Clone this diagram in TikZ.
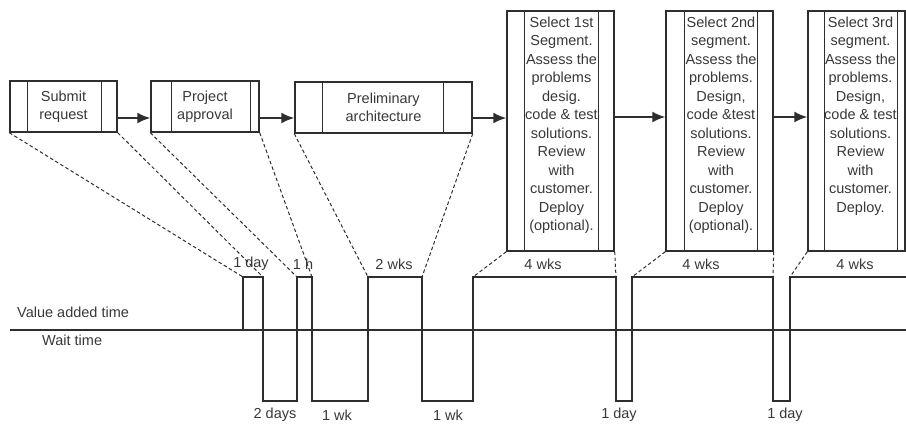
\documentclass[tikz,border=0pt]{standalone}
\usepackage{fontspec}
\setmainfont{Liberation Sans}
\usetikzlibrary{arrows.meta}
\begin{document}
\begin{tikzpicture}[x=1pt, y=-1pt, ink/.style={line width=1.4pt, vsInk}, proj/.style={line width=1pt, vsInk, dash pattern=on 3.5pt off 2.5pt}, flow/.style={-{Latex[length=13pt,width=11pt]}, line width=1.8pt, vsInk}, box/.style={draw=vsInk, line width=1.4pt, inner sep=0pt, align=center}, boxtext/.style={anchor=north, inner sep=0pt, align=center}, lbl/.style={inner sep=0pt}, every node/.style={text=vsText, font=\fontsize{14.5}{18.5}\selectfont}]
\definecolor{vsInk}{rgb}{0.18,0.18,0.18}
\definecolor{vsText}{rgb}{0.22,0.22,0.22}
\useasboundingbox (0,0) rectangle (906,424);
\node[box, minimum width=107pt, minimum height=51pt] (b1) at (63.5,106.5) {Submit\\request};
\draw[ink] ([xshift=18pt]b1.north west) -- ([xshift=18pt]b1.south west);
\draw[ink] ([xshift=-16pt]b1.north east) -- ([xshift=-16pt]b1.south east);
\node[box, minimum width=108pt, minimum height=51pt] (b2) at (205,106.5) {Project\\approval};
\draw[ink] ([xshift=21pt]b2.north west) -- ([xshift=21pt]b2.south west);
\draw[ink] ([xshift=-9pt]b2.north east) -- ([xshift=-9pt]b2.south east);
\node[box, minimum width=177pt, minimum height=51pt] (b3) at (383.5,107.5) {Preliminary\\architecture};
\draw[ink] ([xshift=28pt]b3.north west) -- ([xshift=28pt]b3.south west);
\draw[ink] ([xshift=-29pt]b3.north east) -- ([xshift=-29pt]b3.south east);
\node[box, minimum width=107pt, minimum height=240pt] (b4) at (560.5,131) {};
\draw[ink] ([xshift=18pt]b4.north west) -- ([xshift=18pt]b4.south west);
\draw[ink] ([xshift=-16pt]b4.north east) -- ([xshift=-16pt]b4.south east);
\node[boxtext] (t4) at ([xshift=1pt, yshift=-6pt]b4.north) {Select 1st\\Segment.\\Assess the\\problems\\desig.\\code \& test\\solutions.\\Review\\with\\customer.\\Deploy\\(optional).};
\node[box, minimum width=107pt, minimum height=240pt] (b5) at (719.5,131) {};
\draw[ink] ([xshift=19pt]b5.north west) -- ([xshift=19pt]b5.south west);
\draw[ink] ([xshift=-16pt]b5.north east) -- ([xshift=-16pt]b5.south east);
\node[boxtext] (t5) at ([xshift=1.5pt, yshift=-6pt]b5.north) {Select 2nd\\segment.\\Assess the\\problems.\\Design,\\code \&test\\solutions.\\Review\\with\\customer.\\Deploy\\(optional).};
\node[box, minimum width=97pt, minimum height=240pt] (b6) at (856.5,131) {};
\draw[ink] ([xshift=17pt]b6.north west) -- ([xshift=17pt]b6.south west);
\draw[ink] ([xshift=-8pt]b6.north east) -- ([xshift=-8pt]b6.south east);
\node[boxtext] (t6) at ([xshift=4pt, yshift=-6pt]b6.north) {Select 3rd\\segment.\\Assess the\\problems.\\Design,\\code \& test\\solutions.\\Review\\with\\customer.\\Deploy.};
\draw[flow] ([yshift=-11.5pt]b1.east) -- ([yshift=-11.5pt]b2.west);
\draw[flow] ([yshift=-11.5pt]b2.east) -- ([yshift=-11.5pt]b2.east -| b3.west);
\draw[flow] ([yshift=-10.5pt]b3.east) -- ([yshift=-10.5pt]b3.east -| b4.west);
\draw[flow] ([yshift=14pt]b4.east) -- ([yshift=14pt]b5.west);
\draw[flow] ([yshift=14pt]b5.east) -- ([yshift=14pt]b5.east -| b6.west);
\coordinate (base0) at (10,330);
\coordinate (base1) at (906,330);
\draw[ink] (base0) -- (base1);
\coordinate (p1a) at (243,277);
\coordinate (p1b) at (263,277);
\coordinate (p2a) at (297,277);
\coordinate (p2b) at (312,277);
\coordinate (p3a) at (368,277);
\coordinate (p3b) at (422,277);
\coordinate (p4a) at (473,277);
\coordinate (p4b) at (616,277);
\coordinate (p5a) at (632,277);
\coordinate (p5b) at (773,277);
\coordinate (p6a) at (790,277);
\draw[ink] (243,330) -- (p1a) -- (p1b) -- (263,401) -- (297,401) -- (p2a) -- (p2b) -- (312,401) -- (368,401) -- (p3a) -- (p3b) -- (422,401) -- (473,401) -- (p4a) -- (p4b) -- (616,401) -- (632,401) -- (p5a) -- (p5b) -- (773,401) -- (790,401) -- (p6a) -- (906,277);
\draw[proj] (b1.south west) -- (p1a);
\draw[proj] (b1.south east) -- (p1b);
\draw[proj] (b2.south west) -- (p2a);
\draw[proj] (b2.south east) -- (p2b);
\draw[proj] (b3.south west) -- (p3a);
\draw[proj] (b3.south east) -- (p3b);
\draw[proj] (b4.south west) -- (p4a);
\draw[proj] (b4.south east) -- (p4b);
\draw[proj] (b5.south west) -- (p5a);
\draw[proj] (b5.south east) -- (p5b);
\draw[proj] (b6.south west) -- (p6a);
\node[lbl] (d1) at (251,264) {1 day};
\node[lbl] (d2) at (303,264) {1 h};
\node[lbl] (d3) at (394,264) {2 wks};
\node[lbl] (d4) at (543,264) {4 wks};
\node[lbl] (d5) at (701,264) {4 wks};
\node[lbl] (d6) at (855,264) {4 wks};
\node[lbl] (w1) at (275,415) {2 days};
\node[lbl] (w2) at (337,415) {1 wk};
\node[lbl] (w3) at (448,415) {1 wk};
\node[lbl] (w4) at (619,415) {1 day};
\node[lbl] (w5) at (785,415) {1 day};
\node[lbl, anchor=west] (va) at (17,312) {Value added time};
\node[lbl, anchor=west] (wt) at (42,340) {Wait time};
\end{tikzpicture}
\end{document}
